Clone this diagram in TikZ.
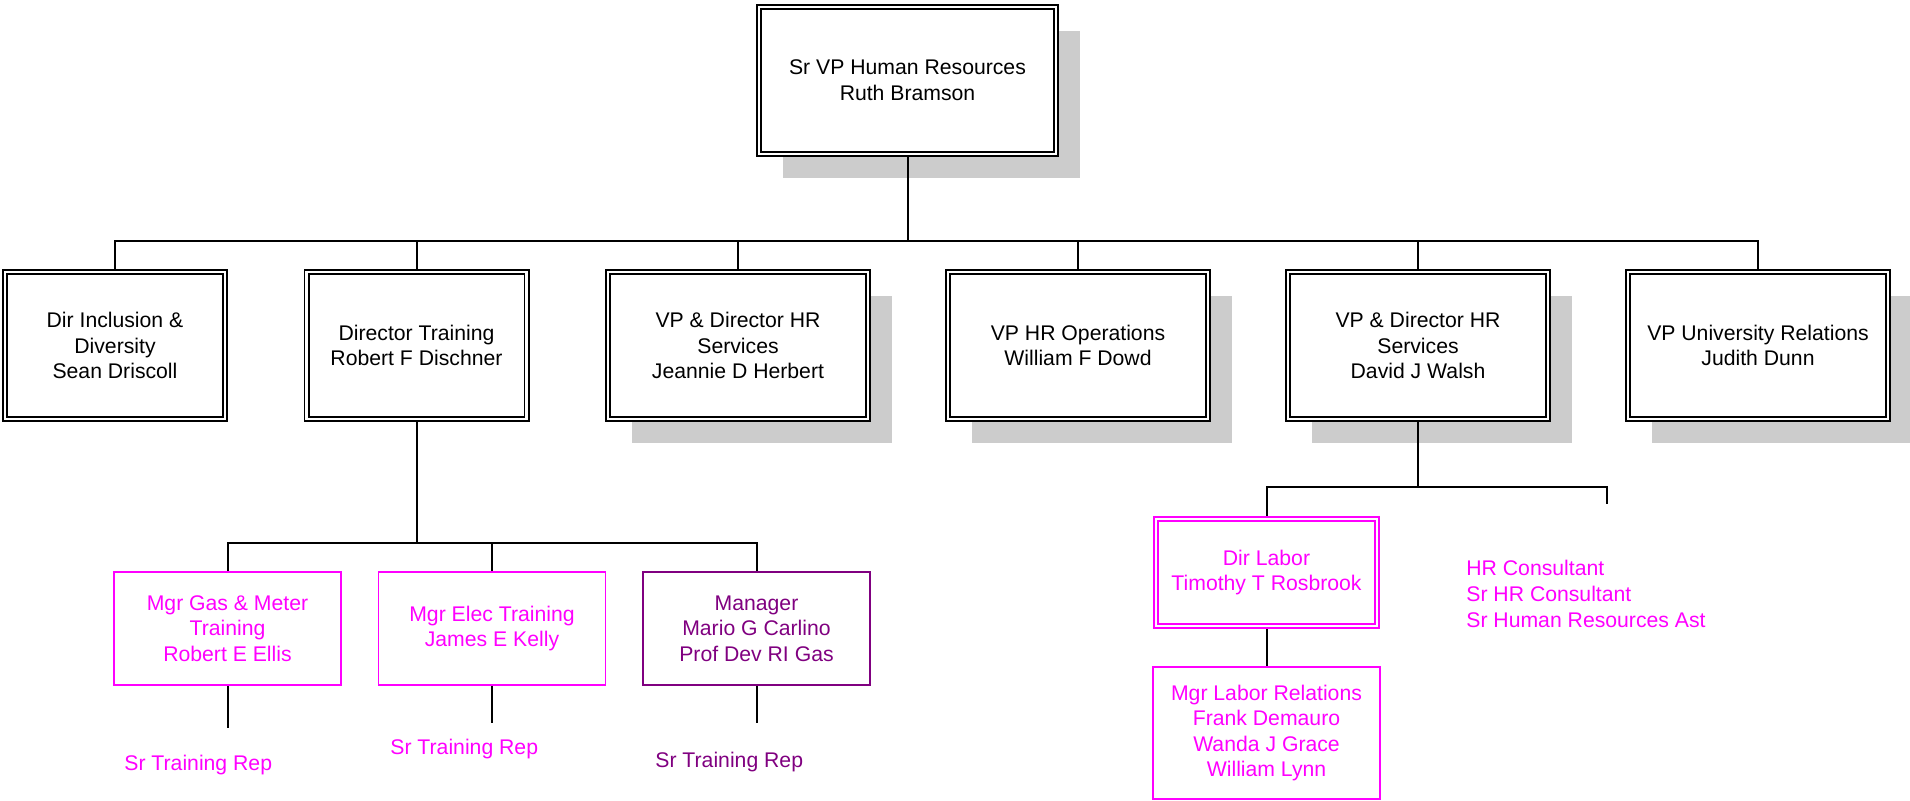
\documentclass[tikz,border=0pt]{standalone}
\usepackage{fontspec}
\setmainfont{Liberation Sans}
\usetikzlibrary{shadows}
\definecolor{shadowgray}{RGB}{204,204,204}
\definecolor{mgn}{RGB}{255,0,255}
\definecolor{plum}{RGB}{128,0,128}

\begin{document}
\begin{tikzpicture}[x=0.5pt, y=-0.5pt,
  font=\fontsize{10.6}{12.8}\selectfont,
  conn/.style={line width=1pt},
  dbox/.style={draw, double, line width=0.8pt, double distance=1.4pt,
    fill=white, align=center, inner sep=0pt, outer sep=1.5pt,
    minimum height=73.5pt},
  shade/.style={drop shadow={shadow xshift=12pt, shadow yshift=-12pt,
    fill=shadowgray, opacity=1}},
  mbox/.style={draw=#1, text=#1, line width=0.8pt, align=center,
    inner sep=0pt, fill=white},
  rep/.style={text=#1, anchor=west, inner sep=0pt}]
  \useasboundingbox (0,0) rectangle (1910,801);
  % 顶层
  \node[dbox, shade, minimum width=148.5pt] (svp) at (907.5,80.5)
    {Sr VP Human Resources\\Ruth Bramson};
  % 第二层
  \node[dbox, minimum width=110pt] (incl) at (115,345.5)
    {Dir Inclusion \&\\Diversity\\Sean Driscoll};
  \node[dbox, minimum width=110pt] (train) at (416.5,345.5)
    {Director Training\\Robert F Dischner};
  \node[dbox, shade, minimum width=130pt] (svcA) at (738,345.5)
    {VP \& Director HR\\Services\\Jeannie D Herbert};
  \node[dbox, shade, minimum width=130pt] (ops) at (1078,345.5)
    {VP HR Operations\\William F Dowd};
  \node[dbox, shade, minimum width=130pt] (svcB) at (1418,345.5)
    {VP \& Director HR\\Services\\David J Walsh};
  \node[dbox, shade, minimum width=130pt] (univ) at (1758,345.5)
    {VP University Relations\\Judith Dunn};
  % 顶层到第二层的连线
  \coordinate (bus) at (0,241);
  \draw[conn] (svp.south) -- (svp.south |- bus);
  \draw[conn] (incl.north) |- (bus -| univ.north) -- (univ.north);
  \foreach \n in {train,svcA,ops,svcB}
    \draw[conn] (\n.north) -- (\n.north |- bus);
  % 培训部下属
  \node[mbox=mgn, minimum width=113.5pt, minimum height=56.5pt] (gas)
    at (227.5,628.5) {Mgr Gas \& Meter\\Training\\Robert E Ellis};
  \node[mbox=mgn, minimum width=113.5pt, minimum height=56.5pt] (elec)
    at (492,628.5) {Mgr Elec Training\\James E Kelly};
  \node[mbox=plum, minimum width=113.5pt, minimum height=56.5pt] (prof)
    at (756.5,628.5) {Manager\\Mario G Carlino\\Prof Dev RI Gas};
  \coordinate (tbus) at (0,543);
  \draw[conn] (train.south) -- (train.south |- tbus);
  \draw[conn] (gas.north) |- (tbus -| prof.north) -- (prof.north);
  \draw[conn] (elec.north) -- (elec.north |- tbus);
  % 下挂岗位
  \coordinate (gasend) at (227.5,728);
  \coordinate (elecend) at (492,723);
  \coordinate (profend) at (756.5,723);
  \draw[conn] (gas.south) -- (gasend);
  \draw[conn] (elec.south) -- (elecend);
  \draw[conn] (prof.south) -- (profend);
  \node[rep=mgn] (gasrep) at (124,765) {Sr Training Rep};
  \node[rep=mgn] (elecrep) at (390,749) {Sr Training Rep};
  \node[rep=plum] (profrep) at (655,762) {Sr Training Rep};
  % 人力服务部下属
  \node[mbox=mgn, double, double distance=1.4pt, line width=0.8pt,
    outer sep=1.5pt, minimum width=110.5pt, minimum height=53.5pt] (labor)
    at (1266.5,572.5) {Dir Labor\\Timothy T Rosbrook};
  \node[mbox=mgn, minimum width=113.5pt, minimum height=66pt] (lrel)
    at (1266.5,733) {Mgr Labor Relations\\Frank Demauro\\Wanda J Grace\\William Lynn};
  \coordinate (lbus) at (0,487);
  \coordinate (hrend) at (1607,504);
  \draw[conn] (svcB.south) -- (svcB.south |- lbus);
  \draw[conn] (labor.north) |- (lbus -| hrend) -- (hrend);
  \draw[conn] (labor.south) -- (lrel.north);
  \node[rep=mgn, align=left] (hrc) at (1466,594)
    {HR Consultant\\Sr HR Consultant\\Sr Human Resources Ast};
\end{tikzpicture}
\end{document}
